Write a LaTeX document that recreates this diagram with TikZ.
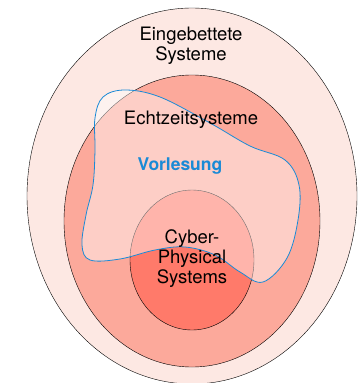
\documentclass[tikz,border=0pt]{standalone}
\usepackage{fontspec}
\setmainfont{TeX Gyre Heros}
\usetikzlibrary{positioning}

\definecolor{outerfill}{HTML}{FDE8E3}
\definecolor{midfill}{HTML}{FCA99B}
\definecolor{innerfill}{HTML}{FF7A6A}
\definecolor{lecblue}{HTML}{1A8AD6}

\begin{document}
\begin{tikzpicture}
[x=1pt,y=-1pt,
 every node/.style={inner sep=0mm,outer sep=0mm,align=center,font=\fontsize{18.5}{20}\selectfont},
 set/.style={draw=black,thin},
 lec/.style={draw=lecblue,thick,fill=white,fill opacity=0.44},
 hl/.style={lecblue,font=\fontsize{17.5}{20}\selectfont\bfseries}]
\useasboundingbox (0,0) rectangle (362,383);
\path[set,fill=outerfill] (192,196) ellipse [x radius=165,y radius=188];
\path[set,fill=midfill]   (192,221) ellipse [x radius=128,y radius=146];
\path[set,fill=innerfill] (192,260) ellipse [x radius=62,y radius=70];

% lecture region
\path[lec] plot[smooth cycle,tension=0.6] coordinates
 {(125,90) (160,97) (210,123) (250,146) (285,160) (299,185) (298,220)
  (287,258) (263,282) (240,272) (215,255) (185,247) (155,250) (120,259)
  (90,260) (82,245) (86,215) (93,185) (95,150) (95,118) (103,97)};

\node (emb)  at (191,46)  {Eingebettete\\Systeme};
\node (rt)   at (191,120) {Echtzeitsysteme};
\node[hl] (lecture) at (180,166) {Vorlesung};
\node (cps)  at (192,259) {Cyber-\\Physical\\Systems};
\end{tikzpicture}
\end{document}
